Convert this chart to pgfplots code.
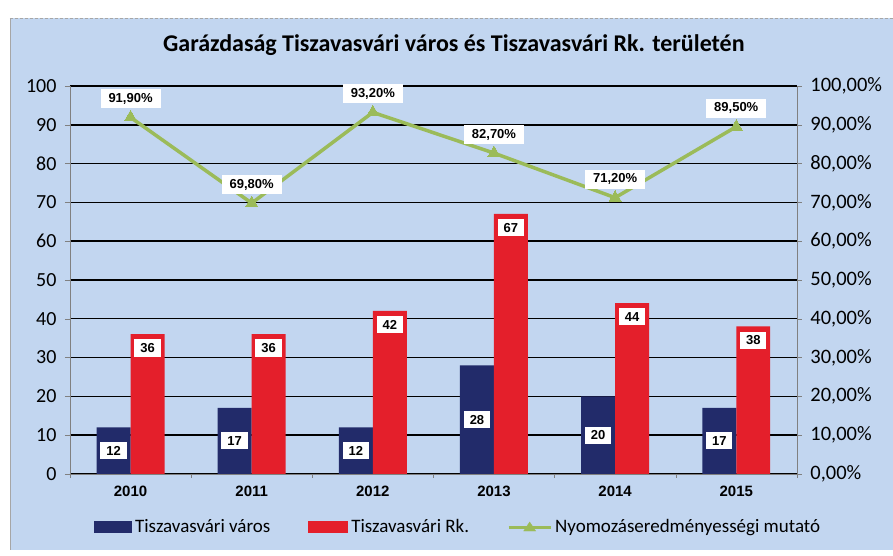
\documentclass[border=0pt]{standalone}
\usepackage{fontspec}
\setmainfont{Carlito}
\newfontfamily\arialf{Liberation Sans}
\usepackage{pgfplots}
\pgfplotsset{compat=1.18}
\definecolor{bgblue}{HTML}{C2D6F0}
\definecolor{navy}{HTML}{222B6A}
\definecolor{barred}{HTML}{E41F2B}
\definecolor{lgreen}{HTML}{9BBB59}
\begin{document}
\begin{tikzpicture}[x=1pt,y=1pt]
\fill[white] (0pt,0pt) rectangle (893pt,556pt);
\fill[bgblue] (10pt,6pt) rectangle (893pt,538pt);
\draw[gray!70, densely dashed] (10pt,538pt) -- (893pt,538pt);
\draw[gray!70] (10pt,6pt) -- (10pt,538pt);
\node[font=\bfseries\fontsize{24}{28}\selectfont] at (454pt,511pt) {Garázdaság Tiszavasvári város és Tiszavasvári Rk. területén};
\begin{axis}[
  at={(70pt,82pt)}, anchor=south west,
  scale only axis, width=727pt, height=388pt,
  ybar=0pt, bar width=34pt,
  xmin=-0.5, xmax=5.5, ymin=0, ymax=100,
  ytick={0,10,...,100},
  yticklabels={0,10,20,30,40,50,60,70,80,90,100},
  xtick={0,1,2,3,4,5},
  xticklabels={2010,2011,2012,2013,2014,2015},
  minor xtick={-0.5,0.5,1.5,2.5,3.5,4.5,5.5},
  axis x line*=bottom, axis y line*=left,
  x axis line style={gray, thin},
  y axis line style={gray, thin},
  ymajorgrids, grid style={black, line width=1.5pt},
  tick align=outside,
  major tick length=5pt, minor tick length=4pt,
  xtick style={draw=none},
  minor x tick style={gray, draw=gray},
  ytick style={gray},
  /pgf/number format/assume math mode=true,
  yticklabel style={font=\fontsize{20}{24}\selectfont, xshift=-5pt},
  xticklabel style={font=\arialf\bfseries\fontsize{15}{17}\selectfont, yshift=-4pt},
  legend style={at={(0.534,-0.137)}, anchor=center, draw=none, fill=none,
    legend columns=3, font=\fontsize{19}{22}\selectfont,
    /tikz/every odd column/.append style={column sep=1pt},
    /tikz/column 2/.style={column sep=36pt},
    /tikz/column 4/.style={column sep=36pt}},
  legend cell align=left,
]
\addplot[fill=navy, draw=none, area legend,
  legend image code/.code={\fill[navy] (0pt,-6pt) rectangle (38pt,6pt);},
  visualization depends on=y \as \rawy,
  nodes near coords,
  every node near coord/.append style={anchor=center, shift={(axis direction cs:0,-\rawy/2)},
    fill=white, text=black, inner xsep=6pt, inner ysep=4pt, font=\arialf\bfseries\fontsize{13}{15}\selectfont}]
  coordinates {(0,12) (1,17) (2,12) (3,28) (4,20) (5,17)};
\addlegendentry{Tiszavasvári város}
\addplot[fill=barred, draw=none, area legend,
  legend image code/.code={\fill[barred] (0pt,-6pt) rectangle (40pt,6pt);},
  nodes near coords,
  every node near coord/.append style={anchor=north, yshift=-5pt,
    fill=white, text=black, inner xsep=6pt, inner ysep=4pt, font=\arialf\bfseries\fontsize{13}{15}\selectfont}]
  coordinates {(0,36) (1,36) (2,42) (3,67) (4,44) (5,38)};
\addlegendentry{Tiszavasvári Rk.}
\addlegendimage{legend image code/.code={\draw[lgreen, line width=3pt] (0pt,0pt) -- (42pt,0pt); \fill[lgreen] (21pt,5pt) -- (15pt,-4pt) -- (27pt,-4pt) -- cycle;}}
\addlegendentry{Nyomozáseredményességi mutató}
\end{axis}
\begin{axis}[
  at={(70pt,82pt)}, anchor=south west,
  scale only axis, width=727pt, height=388pt,
  xmin=-0.5, xmax=5.5, ymin=0, ymax=100,
  axis x line=none, axis y line*=right,
  y axis line style={gray, thin},
  ytick={0,10,...,100},
  yticklabels={{0,00\%},{10,00\%},{20,00\%},{30,00\%},{40,00\%},{50,00\%},{60,00\%},{70,00\%},{80,00\%},{90,00\%},{100,00\%}},
  tick align=outside, major tick length=5pt, ytick style={gray},
  yticklabel style={font=\fontsize{20.5}{24}\selectfont, xshift=5pt},
]
\addplot[lgreen, line width=3.5pt, mark=triangle*, mark size=7pt,
  mark options={solid, line width=0pt},
  point meta=explicit symbolic,
  nodes near coords,
  every node near coord/.append style={anchor=south, yshift=9pt,
    fill=white, text=black, inner xsep=8pt, inner ysep=4pt, font=\arialf\bfseries\fontsize{13}{15}\selectfont}]
  table[meta=lab] {
x y lab
0 91.9 {91,90\%}
1 69.8 {69,80\%}
2 93.2 {93,20\%}
3 82.7 {82,70\%}
4 71.2 {71,20\%}
5 89.5 {89,50\%}
};
\end{axis}
\end{tikzpicture}
\end{document}
